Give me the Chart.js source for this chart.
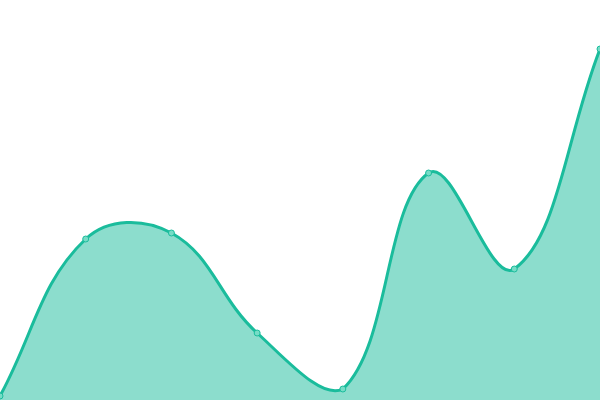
<!DOCTYPE html>
<html>
<head>
<meta charset="utf-8">
<script src="https://cdn.jsdelivr.net/npm/chart.js@4"></script>
<style>
  html, body { margin: 0; padding: 0; background: #fff; }
  #box { width: 600px; height: 400px; }
</style>
</head>
<body>
<div id="box"><canvas id="grafico"></canvas></div>
<script>
var rotulos = ["1", "2", "3", "4", "5", "6", "7", "8"];
var valores = [4, 161, 167, 67, 11, 227, 131, 351];
var escalaMin = 0;
var escalaMax = 400;

var ctx = document.getElementById("grafico").getContext("2d");
new Chart(ctx, {
  type: "line",
  data: {
    labels: rotulos,
    datasets: [{
      data: valores,
      borderColor: "#1abc9c",
      backgroundColor: "rgba(26, 188, 156, 0.5)",
      borderWidth: 3,
      fill: "origin",
      tension: 0.4,
      pointRadius: 3,
      pointBackgroundColor: "#76dcc6",
      pointBorderColor: "#1abc9c",
      pointBorderWidth: 1,
      clip: 5,
    }],
  },
  options: {
    responsive: true,
    maintainAspectRatio: false,
    animation: false,
    layout: { padding: 0, autoPadding: false },
    plugins: {
      legend: { display: false },
      tooltip: { enabled: false },
    },
    scales: {
      x: { display: false, offset: false },
      y: { display: false, min: escalaMin, max: escalaMax },
    },
  },
});
</script>
</body>
</html>
